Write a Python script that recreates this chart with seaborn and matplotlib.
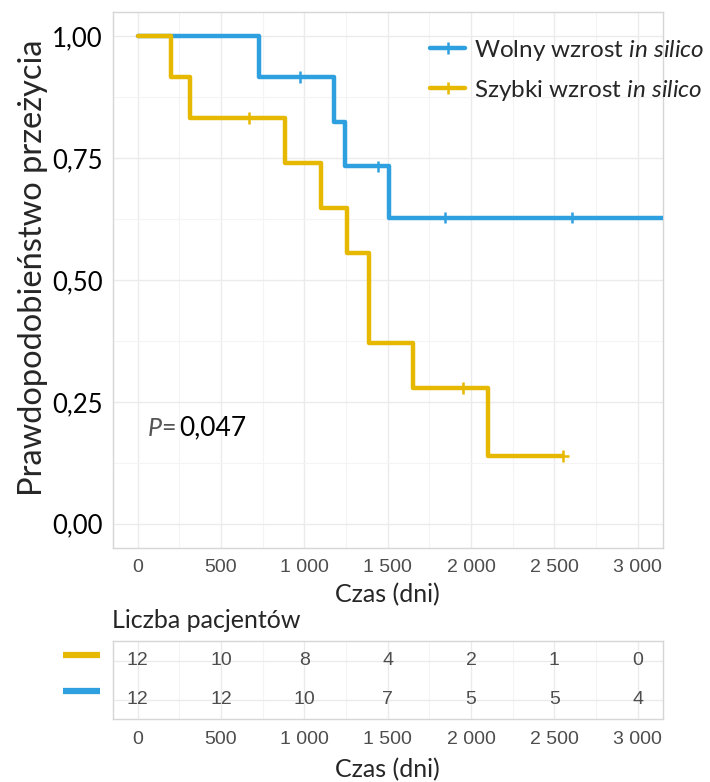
import numpy as np
import pandas as pd
import matplotlib
matplotlib.use("Agg")
import matplotlib.pyplot as plt
from matplotlib.lines import Line2D
from matplotlib.ticker import MultipleLocator
import seaborn as sns

# Kaplan-Meier step curves (time in days, survival probability)
slow_label = r"Wolny wzrost $\mathit{in\ silico}$"
fast_label = r"Szybki wzrost $\mathit{in\ silico}$"

slow_times = [0, 725, 1179, 1245, 1510, 3200]
slow_surv = [1.0, 0.917, 0.825, 0.733, 0.628, 0.628]
slow_censored = [975, 1444, 1841, 2604]

fast_times = [0, 200, 312, 881, 1099, 1257, 1390, 1651, 2104, 2554]
fast_surv = [1.0, 0.917, 0.833, 0.741, 0.648, 0.556, 0.370, 0.278, 0.139, 0.139]
fast_censored = [670, 1953, 2554]

# Number at risk table
risk_times = [0, 500, 1000, 1500, 2000, 2500, 3000]
risk_fast = [12, 10, 8, 4, 2, 1, 0]
risk_slow = [12, 12, 10, 7, 5, 5, 4]

x_ticks = [0, 500, 1000, 1500, 2000, 2500, 3000]
x_tick_labels = ["0", "500", "1 000", "1 500", "2 000", "2 500", "3 000"]
y_ticks = [0.0, 0.25, 0.5, 0.75, 1.0]
y_tick_labels = ["0,00", "0,25", "0,50", "0,75", "1,00"]

p_value_text = "0,047"

BLUE = "#2E9FDF"
YELLOW = "#E7B800"
GRID_MAJOR = "#EBEBEB"
GRID_MINOR = "#F4F4F4"
BORDER = "#D6D6D6"
TICK_GRAY = "#4D4D4D"

sns.set_style("white")
plt.rcParams["font.family"] = ["Lato", "DejaVu Sans"]
plt.rcParams["mathtext.fontset"] = "custom"
plt.rcParams["mathtext.rm"] = "Lato"
plt.rcParams["mathtext.it"] = "Lato:italic"

W, H = 710, 782
fig = plt.figure(figsize=(W / 100, H / 100), dpi=100)

def fx(px):
    return px / W

def fy(py):
    return 1 - py / H

# ---- survival curves ----
ax = fig.add_axes([fx(112.7), fy(548), fx(662.7) - fx(112.7), fy(12) - fy(548)])

curves = pd.concat([
    pd.DataFrame({"t": slow_times, "s": slow_surv, "grupa": slow_label}),
    pd.DataFrame({"t": fast_times, "s": fast_surv, "grupa": fast_label}),
], ignore_index=True)

def step_value(times, surv, t):
    i = np.searchsorted(times, t, side="right") - 1
    return surv[i]

censors = pd.concat([
    pd.DataFrame({"t": slow_censored,
                  "s": [step_value(slow_times, slow_surv, t) for t in slow_censored],
                  "grupa": slow_label}),
    pd.DataFrame({"t": fast_censored,
                  "s": [step_value(fast_times, fast_surv, t) for t in fast_censored],
                  "grupa": fast_label}),
], ignore_index=True)

order = [slow_label, fast_label]
palette = {slow_label: BLUE, fast_label: YELLOW}

sns.lineplot(data=curves, x="t", y="s", hue="grupa", hue_order=order,
             palette=palette, drawstyle="steps-post", linewidth=3.2,
             estimator=None, sort=False, legend=False, ax=ax, zorder=3)
sns.scatterplot(data=censors, x="t", y="s", hue="grupa", hue_order=order,
                palette=palette, marker="+", s=70, linewidth=1.8,
                legend=False, ax=ax, zorder=4)

ax.set_xlim(-150, 3150)
ax.set_ylim(-0.05, 1.05)
ax.set_xticks(x_ticks)
ax.set_xticklabels(x_tick_labels, family=["Liberation Sans"], fontsize=14,
                   color=TICK_GRAY)
ax.set_yticks(y_ticks)
ax.set_yticklabels(y_tick_labels, fontsize=18.5, color="black")
ax.xaxis.set_minor_locator(MultipleLocator(250))
ax.yaxis.set_minor_locator(MultipleLocator(0.125))
ax.grid(which="major", color=GRID_MAJOR, linewidth=1.0, zorder=0)
ax.grid(which="minor", color=GRID_MINOR, linewidth=0.8, zorder=0)
ax.tick_params(which="major", length=4, width=1, color="#B3B3B3", pad=3)
ax.tick_params(which="minor", length=0)
ax.tick_params(axis="x", pad=4)
for sp in ax.spines.values():
    sp.set_color(BORDER)
    sp.set_linewidth(1.0)
ax.set_xlabel("Czas (dni)", fontsize=18, labelpad=5)
ax.set_ylabel("Prawdopodobieństwo przeżycia", fontsize=23.5)
ax.yaxis.set_label_coords(-0.117, 0.523)

handles = [Line2D([0], [0], color=BLUE, lw=3.2, marker="+", markersize=9, mew=1.8),
           Line2D([0], [0], color=YELLOW, lw=3.2, marker="+", markersize=9, mew=1.8)]
fig.legend(handles, order, loc="upper left",
           bbox_to_anchor=(fx(430), fy(38)), frameon=False, fontsize=17.5,
           handlelength=1.45, handletextpad=0.35, labelspacing=0.6,
           borderpad=0, borderaxespad=0)

p_y = 0.196
ax.text(62, p_y, "P", style="italic", fontsize=18, color="#555555",
        va="center", ha="left")
ax.text(142, p_y, "=", fontsize=18, color="#555555", va="center", ha="left")
ax.text(252, p_y, p_value_text, fontsize=19, color="black",
        va="center", ha="left")

# ---- number at risk table ----
tab = fig.add_axes([fx(112.7), fy(719), fx(662.7) - fx(112.7), fy(641) - fy(719)])
tab.set_xlim(-150, 3150)
tab.set_ylim(0.5, 2.5)
for t, n_fast, n_slow in zip(risk_times, risk_fast, risk_slow):
    tab.text(t, 2, str(n_fast), ha="center", va="center", fontsize=14,
             family=["Liberation Sans"], color=TICK_GRAY)
    tab.text(t, 1, str(n_slow), ha="center", va="center", fontsize=14,
             family=["Liberation Sans"], color=TICK_GRAY)
tab.set_xticks(x_ticks)
tab.set_xticklabels(x_tick_labels, family=["Liberation Sans"], fontsize=14,
                    color=TICK_GRAY)
tab.set_yticks([1, 2])
tab.set_yticklabels([])
tab.xaxis.set_minor_locator(MultipleLocator(250))
tab.grid(which="major", color=GRID_MAJOR, linewidth=1.0)
tab.grid(which="minor", axis="x", color=GRID_MINOR, linewidth=0.8)
tab.tick_params(axis="x", which="major", length=4, width=1, color="#B3B3B3", pad=5)
tab.tick_params(axis="y", length=0)
tab.tick_params(which="minor", length=0)
for sp in tab.spines.values():
    sp.set_color(BORDER)
    sp.set_linewidth(1.0)
tab.set_xlabel("Czas (dni)", fontsize=18, labelpad=7)

fig.text(fx(112), fy(621), "Liczba pacjentów", fontsize=18, ha="left", va="center")
fig.add_artist(Line2D([fx(63), fx(100)], [fy(655), fy(655)], color=YELLOW, lw=4.5,
                      transform=fig.transFigure, solid_capstyle="butt"))
fig.add_artist(Line2D([fx(63), fx(100)], [fy(691), fy(691)], color=BLUE, lw=4.5,
                      transform=fig.transFigure, solid_capstyle="butt"))

fig.savefig("out.png", dpi=100, facecolor="white")
